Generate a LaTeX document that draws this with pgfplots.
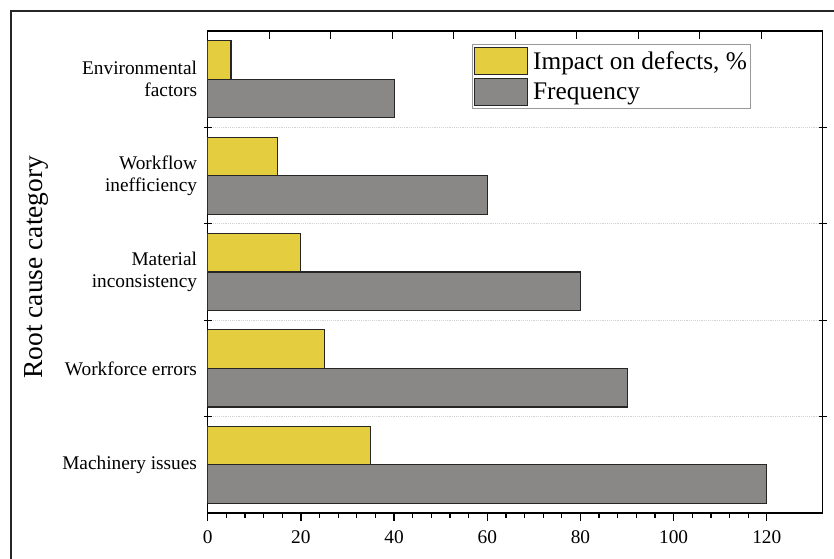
\documentclass[border=0pt]{standalone}
\usepackage{pgfplots}
\usepackage{pgfplotstable}
\pgfplotsset{compat=1.18}
\usepackage{fontspec}
\setmainfont{Liberation Serif}

\definecolor{impactyellow}{RGB}{228,205,62}
\definecolor{freqgray}{RGB}{138,136,135}

% Root causes, bottom to top: impact on defects (%) and frequency
\pgfplotstableread{
pos impact freq
0   35     120
1   25     90
2   20     80
3   15     60
4   5      40
}\causes

\pgfplotsset{
  patchlegend/.style={
    legend image code/.code={\draw[##1,draw=black!85,line width=0.8pt] (0pt,-10pt) rectangle (40pt,10pt);}
  }
}

\begin{document}
\begin{tikzpicture}
\useasboundingbox (-155.8pt,-33.75pt) rectangle (469.7pt,384.75pt);
% figure frame
\draw[line width=1pt, black!85] (-147.5pt,-60pt) -- (-147.5pt,376.5pt) -- (490pt,376.5pt);

\begin{axis}[
  at={(0pt,0pt)}, anchor=south west,
  scale only axis, width=461.25pt, height=361.5pt,
  xmin=0, xmax=132, ymin=-0.5, ymax=4.5,
  xbar, bar width=0.4,
  axis line style={line width=1pt},
  every tick/.style={line width=1pt, black},
  xtick={0,20,...,120}, minor x tick num=4, xtick pos=bottom,
  xtick align=outside,
  major tick length=6pt, minor tick length=3.5pt,
  ytick={0.5,1.5,2.5,3.5}, yticklabels={},
  ytick align=center,
  ymajorgrids, major grid style={densely dotted, gray!35, line width=0.8pt},
  extra y ticks={0,1,2,3,4},
  extra y tick labels={Machinery issues, Workforce errors, {Material\\inconsistency}, {Workflow\\inefficiency}, {Environmental\\factors}},
  extra y tick style={grid=none, major tick length=0pt},
  yticklabel style={font=\fontsize{14.5}{16.3}\selectfont, align=right, xshift=-4.5pt},
  xticklabel style={font=\fontsize{14.5}{16}\selectfont, yshift=-4pt},
  /pgf/number format/assume math mode=true,
  ylabel={Root cause category},
  ylabel style={at={(axis description cs:-0.279,0.51)}, anchor=center, font=\fontsize{20.6}{24}\selectfont},
  patchlegend,
  legend style={at={(rel axis cs:0.430,0.973)}, anchor=north west,
    draw=gray!80, line width=0.8pt, font=\fontsize{19}{22}\selectfont,
    inner xsep=1pt, inner ysep=2pt, row sep=2.5pt, column sep=0pt,
    nodes={inner sep=1.5pt}},
  legend cell align=left,
]
\addplot[fill=impactyellow, draw=black!85, line width=0.8pt, bar shift=0.2, patchlegend]
  table[x=impact, y=pos] {\causes};
\addlegendentry{\hspace{2pt}Impact on defects, \%\hspace{7pt}}
\addplot[fill=freqgray, draw=black!85, line width=0.8pt, bar shift=-0.2, patchlegend]
  table[x=freq, y=pos] {\causes};
\addlegendentry{\hspace{2pt}Frequency}
\end{axis}

% ticks along the top edge
\begin{axis}[
  at={(0pt,0pt)}, anchor=south west,
  scale only axis, width=461.25pt, height=361.5pt,
  xmin=0, xmax=10, ymin=0, ymax=1,
  axis x line*=top, hide y axis,
  axis line style={line width=1pt},
  every tick/.style={line width=1pt, black},
  xtick={1,...,9}, xticklabels={}, xtick align=inside,
  major tick length=6pt,
]
\end{axis}
\end{tikzpicture}
\end{document}
